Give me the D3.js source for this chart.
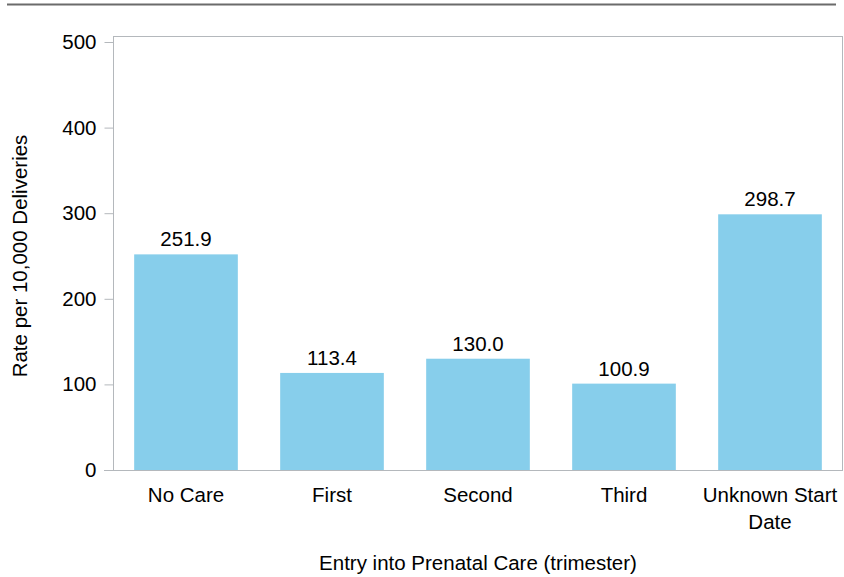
<!DOCTYPE html>
<html>
<head>
<meta charset="utf-8">
<script src="https://cdn.jsdelivr.net/npm/d3@7"></script>
<style>
  body { margin: 0; background: #fff; }
  svg { display: block; font-family: "Liberation Sans", Arial, sans-serif; }
</style>
</head>
<body>
<svg id="chart" width="844" height="577"></svg>
<script>
// data
var categories = ["No Care", "First", "Second", "Third", "Unknown Start Date"];
var rates = [251.9, 113.4, 130.0, 100.9, 298.7];
var yTicks = [0, 100, 200, 300, 400, 500];

var svg = d3.select("#chart"),
	plotLeft = 113, plotRight = 843, plotTop = 42, plotBottom = 470,
	fontSize = 20.5;

// rule across the top
svg.append("line")
	.attr("x1", 7).attr("x2", 836)
	.attr("y1", 4.5).attr("y2", 4.5)
	.attr("stroke", "#6b6b6b")
	.attr("stroke-width", 2);

var x = d3.scaleBand()
	.domain(categories)
	.range([plotLeft, plotRight])
	.paddingInner(0.29)
	.paddingOuter(0.145);

var y = d3.scaleLinear()
	.domain([0, 500])
	.range([plotBottom, plotTop]);

// frame
svg.append("rect")
	.attr("x", plotLeft + 0.5).attr("y", plotTop - 6 + 0.5)
	.attr("width", plotRight - plotLeft - 1).attr("height", plotBottom - plotTop + 6)
	.attr("fill", "none")
	.attr("stroke", "#b4b8bc");

// bars
svg.selectAll("rect.bar")
	.data(rates)
	.enter().append("rect")
	.attr("class", "bar")
	.attr("x", function(d, i){ return x(categories[i]); })
	.attr("y", function(d){ return y(d); })
	.attr("width", x.bandwidth())
	.attr("height", function(d){ return y(0) - y(d); })
	.attr("fill", "#87ceeb");

// value labels
svg.selectAll("text.val")
	.data(rates)
	.enter().append("text")
	.attr("class", "val")
	.attr("x", function(d, i){ return x(categories[i]) + x.bandwidth() / 2; })
	.attr("y", function(d){ return y(d) - 8; })
	.attr("text-anchor", "middle")
	.attr("font-size", fontSize)
	.attr("fill", "#000")
	.text(function(d){ return d.toFixed(1); });

// y axis
var yAxis = svg.append("g")
	.attr("transform", "translate(" + (plotLeft + 0.5) + ",0)")
	.call(d3.axisLeft(y).tickValues(yTicks).tickSize(9).tickPadding(8));
yAxis.select(".domain").remove();
yAxis.selectAll("line").attr("stroke", "#b4b8bc");
yAxis.selectAll("text").attr("font-size", fontSize).attr("fill", "#000")
	.attr("font-family", "Liberation Sans, Arial, sans-serif");

// x axis line
svg.append("line")
	.attr("x1", plotLeft - 9).attr("x2", plotRight)
	.attr("y1", plotBottom + 0.5).attr("y2", plotBottom + 0.5)
	.attr("stroke", "#b4b8bc");

// category labels, wrapped like the reference
var wrapped = {"Unknown Start Date": ["Unknown Start", "Date"]};
svg.selectAll("text.cat")
	.data(categories)
	.enter().append("text")
	.attr("class", "cat")
	.attr("text-anchor", "middle")
	.attr("font-size", fontSize)
	.attr("fill", "#000")
	.each(function(c){
		var lines = wrapped[c] || [c];
		var t = d3.select(this);
		lines.forEach(function(s, k){
			t.append("tspan")
				.attr("x", x(c) + x.bandwidth() / 2)
				.attr("y", 502 + k * 27)
				.text(s);
		});
	});

// axis titles
svg.append("text")
	.attr("x", (plotLeft + plotRight) / 2)
	.attr("y", 570)
	.attr("text-anchor", "middle")
	.attr("font-size", fontSize)
	.text("Entry into Prenatal Care (trimester)");

svg.append("text")
	.attr("transform", "translate(27," + ((plotTop + plotBottom) / 2) + ") rotate(-90)")
	.attr("text-anchor", "middle")
	.attr("font-size", fontSize)
	.text("Rate per 10,000 Deliveries");
</script>
</body>
</html>
